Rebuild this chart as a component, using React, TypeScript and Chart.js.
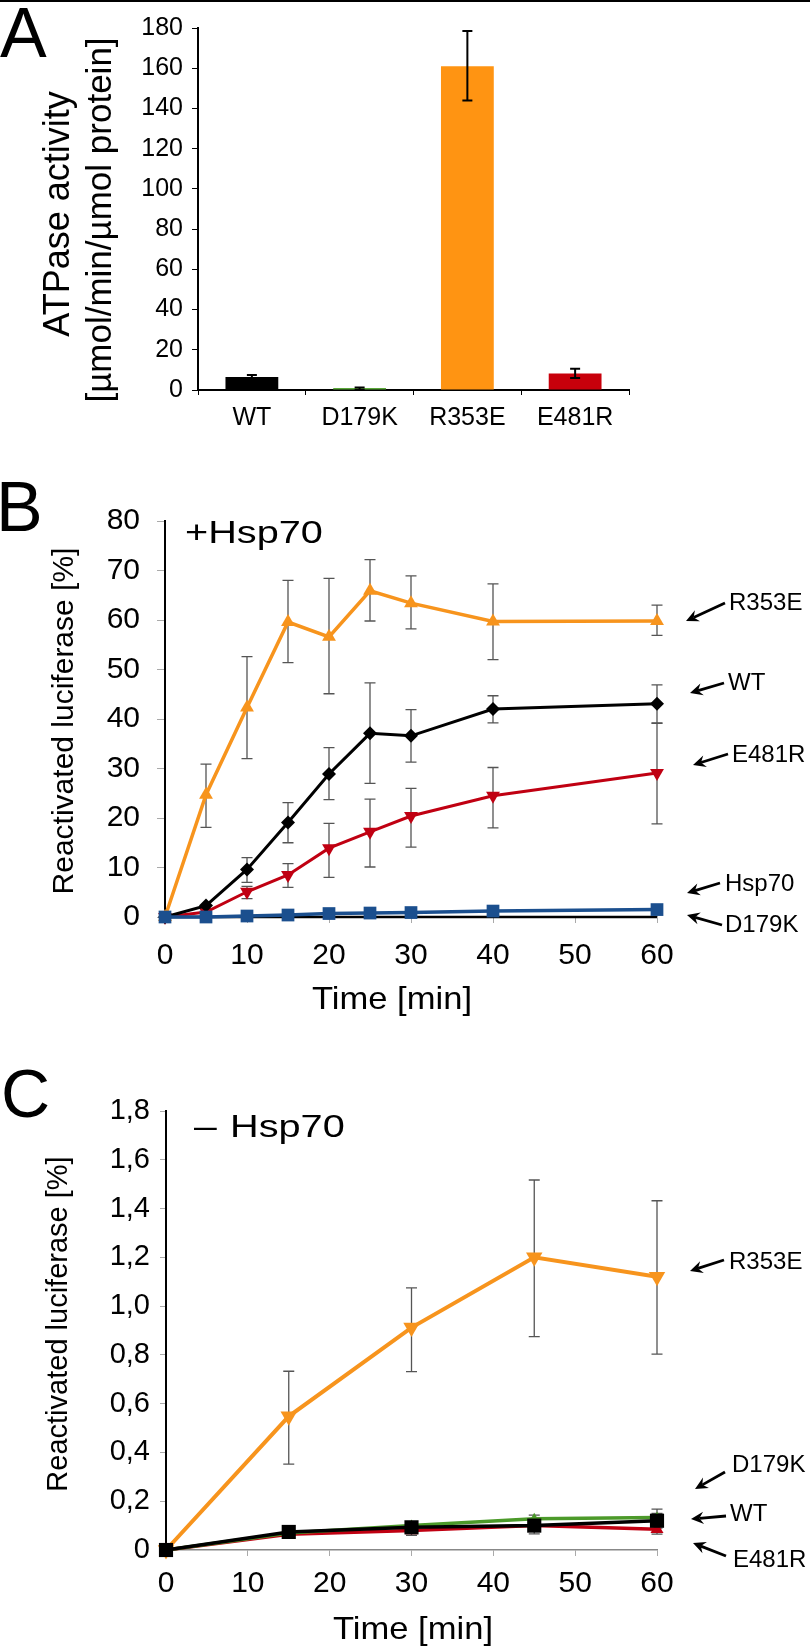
import React, { useEffect, useRef } from 'react';
import { Chart, registerables } from 'chart.js';

Chart.register(...registerables);

const FONT = "'Liberation Sans', Arial, Helvetica, sans-serif";
Chart.defaults.font.family = FONT;
Chart.defaults.color = '#000';

// ---------------- Panel A : ATPase activity ----------------
const aCategories = ['WT', 'D179K', 'R353E', 'E481R'];
const aActivity = [6.5, 1.0, 161, 8.2];
const aErrLow = [5.6, 0, 144, 6];
const aErrHigh = [7.4, 1.2, 178.5, 10.6];
const aColors = ['#000000', '#5BA83A', '#FF9412', '#C8000B'];
const aYMax = 180;
const aYStep = 20;

// ---------------- Panel B : +Hsp70 ----------------
const bTime = [0, 5, 10, 15, 20, 25, 30, 40, 60];
const bR353E = [0, 24.7, 42.3, 59.6, 56.6, 65.9, 63.4, 59.7, 59.8];
const bR353ELow = [0, 18.1, 32, 51.4, 45.1, 59.8, 58.2, 52, 56.9];
const bR353EHigh = [0, 30.9, 52.6, 68, 68.4, 72.2, 68.9, 67.3, 63];
const bWT = [0, 2.3, 9.6, 19.1, 28.9, 37.1, 36.6, 42, 43.1];
const bWTLow = [0, 2.3, 7, 15, 23.7, 27, 31.3, 39.2, 39.2];
const bWTHigh = [0, 2.3, 12, 23.1, 34.2, 47.3, 41.9, 44.7, 46.9];
const bE481R = [0, 1, 5.1, 8.5, 13.9, 17.2, 20.4, 24.5, 29.1];
const bE481RLow = [0, 1, 3.7, 6, 8, 10.1, 14.1, 18, 18.8];
const bE481RHigh = [0, 1, 6.2, 10.8, 18.9, 23.8, 26, 30.2, 39.1];
const bHsp70 = [0, 0, 0.2, 0.4, 0.7, 0.8, 0.9, 1.2, 1.5];
const bHsp70Low = [0, 0, -0.4, -0.2, 0.1, 0.1, 0.2, 0.5, 0.8];
const bHsp70High = [0, 0, 0.8, 1.0, 1.3, 1.5, 1.6, 1.9, 2.2];
const bD179K = [0, 0, 0, 0, 0, 0, 0, 0, 0];
const bYMax = 80;
const bYStep = 10;

// ---------------- Panel C : – Hsp70 ----------------
const cTime = [0, 15, 30, 45, 60];
const cR353E = [0, 0.548, 0.912, 1.2, 1.12];
const cR353ELow = [0, 0.352, 0.731, 0.875, 0.803];
const cR353EHigh = [0, 0.733, 1.075, 1.517, 1.432];
const cWT = [0, 0.074, 0.093, 0.1, 0.12];
const cWTLow = [0, 0.064, 0.083, 0.066, 0.09];
const cWTHigh = [0, 0.084, 0.103, 0.125, 0.15];
const cD179K = [0, 0.07, 0.1, 0.128, 0.133];
const cD179KLow = [0, 0.06, 0.09, 0.113, 0.1];
const cD179KHigh = [0, 0.08, 0.11, 0.143, 0.168];
const cE481R = [0, 0.065, 0.08, 0.1, 0.085];
const cE481RLow = [0, 0.055, 0.06, 0.08, 0.065];
const cE481RHigh = [0, 0.075, 0.1, 0.12, 0.105];
const cYMax = 1.8;
const cYStep = 0.2;

const ORANGE = '#F7941D';
const RED = '#C00012';
const BLUE = '#1B4F8E';
const GREEN = '#4C9A2A';

const pts = (xs: number[], ys: number[]) => xs.map((x, i) => ({ x, y: ys[i] }));

// ---------- plugins ----------
function drawErrors(chart: any, opts: any) {
  const ctx = chart.ctx;
  const yScale = chart.scales.y;
  chart.data.datasets.forEach((ds: any, di: number) => {
    if (!ds.errLow) return;
    const meta = chart.getDatasetMeta(di);
    ctx.save();
    ctx.strokeStyle = opts.color;
    ctx.lineWidth = opts.width;
    meta.data.forEach((el: any, i: number) => {
      const lo = ds.errLow[i];
      const hi = ds.errHigh[i];
      if (lo == null || hi == null || hi - lo <= 0) return;
      const x = el.x;
      const y1 = yScale.getPixelForValue(lo);
      const y2 = yScale.getPixelForValue(hi);
      const c = opts.cap / 2;
      ctx.beginPath();
      ctx.moveTo(x, y1);
      ctx.lineTo(x, y2);
      ctx.moveTo(x - c, y1);
      ctx.lineTo(x + c, y1);
      ctx.moveTo(x - c, y2);
      ctx.lineTo(x + c, y2);
      ctx.stroke();
    });
    ctx.restore();
  });
}

const errorBarPlugin = {
  id: 'errorBars',
  beforeDatasetsDraw(chart: any, _a: any, opts: any) {
    if (opts && opts.under) drawErrors(chart, opts);
  },
  afterDatasetsDraw(chart: any, _a: any, opts: any) {
    if (opts && !opts.under) drawErrors(chart, opts);
  },
};

type TextItem = {
  t: string;
  x: number;
  y: number;
  size: number;
  align?: CanvasTextAlign;
  base?: CanvasTextBaseline;
  rot?: boolean;
  sx?: number;
};
type ArrowItem = { x1: number; y1: number; x2: number; y2: number };

function drawArrow(ctx: CanvasRenderingContext2D, x1: number, y1: number, x2: number, y2: number) {
  const ang = Math.atan2(y2 - y1, x2 - x1);
  const len = 14;
  const spread = 0.45;
  const bx = x2 - Math.cos(ang) * len * 0.6;
  const by = y2 - Math.sin(ang) * len * 0.6;
  ctx.lineWidth = 2.8;
  ctx.beginPath();
  ctx.moveTo(x1, y1);
  ctx.lineTo(bx, by);
  ctx.stroke();
  ctx.beginPath();
  ctx.moveTo(x2, y2);
  ctx.lineTo(x2 - Math.cos(ang - spread) * len, y2 - Math.sin(ang - spread) * len);
  ctx.lineTo(bx, by);
  ctx.lineTo(x2 - Math.cos(ang + spread) * len, y2 - Math.sin(ang + spread) * len);
  ctx.closePath();
  ctx.fill();
}

function annotPlugin(offsetY: number, texts: TextItem[], arrows: ArrowItem[]) {
  return {
    id: 'annot',
    afterDraw(chart: any) {
      const ctx: CanvasRenderingContext2D = chart.ctx;
      ctx.save();
      ctx.fillStyle = '#000';
      ctx.strokeStyle = '#000';
      texts.forEach((it) => {
        ctx.save();
        ctx.font = `${it.size}px ${FONT}`;
        ctx.textAlign = it.align ?? 'left';
        ctx.textBaseline = it.base ?? 'alphabetic';
        ctx.translate(it.x, it.y - offsetY);
        if (it.rot) ctx.rotate(-Math.PI / 2);
        if (it.sx) ctx.scale(it.sx, 1);
        ctx.fillText(it.t, 0, 0);
        ctx.restore();
      });
      arrows.forEach((a) => drawArrow(ctx, a.x1, a.y1 - offsetY, a.x2, a.y2 - offsetY));
      ctx.restore();
    },
  };
}

// ---------- layout (page pixels) ----------
const W = 810;
const A_TOP = 0, A_H = 440;
const B_TOP = 440, B_H = 600;
const C_TOP = 1040, C_H = 611;

const commaTick = (v: any) => {
  const n = Number(v);
  if (Math.abs(n) < 1e-9) return '0';
  return n.toFixed(1).replace('.', ',');
};

function makeA(canvas: HTMLCanvasElement) {
  const texts: TextItem[] = [
    { t: 'A', x: 0, y: 57, size: 70 },
    { t: 'ATPase activity', x: 59, y: 214, size: 36, align: 'center', base: 'middle', rot: true },
    { t: '[µmol/min/µmol protein]', x: 101, y: 220, size: 35, align: 'center', base: 'middle', rot: true },
  ];
  return new Chart(canvas, {
    type: 'bar',
    data: {
      labels: aCategories,
      datasets: [
        {
          data: aActivity,
          backgroundColor: aColors,
          barPercentage: 0.49,
          categoryPercentage: 1,
          errLow: aErrLow,
          errHigh: aErrHigh,
        } as any,
      ],
    },
    options: {
      animation: false,
      responsive: false,
      layout: { padding: { left: 0, top: 28, right: W - 629, bottom: 0 } },
      plugins: {
        legend: { display: false },
        tooltip: { enabled: false },
        errorBars: { under: false, color: '#000', width: 2, cap: 10 },
      } as any,
      scales: {
        x: {
          ticks: { font: { size: 25, family: FONT }, color: '#000', padding: 8, maxRotation: 0 },
          grid: { drawOnChartArea: false, drawTicks: true, tickLength: 5, tickColor: '#000', offset: true },
          border: { display: true, color: '#000', width: 2 },
          afterFit: (s: any) => { s.height = A_H - 390; },
        },
        y: {
          min: 0,
          max: aYMax,
          ticks: { stepSize: aYStep, font: { size: 25, family: FONT }, color: '#000', padding: 9 },
          grid: { drawOnChartArea: false, drawTicks: true, tickLength: 6, tickColor: '#000' },
          border: { display: true, color: '#000', width: 2 },
          afterFit: (s: any) => { s.width = 198; },
        },
      },
    },
    plugins: [errorBarPlugin, annotPlugin(A_TOP, texts, [])],
  } as any);
}

function makeB(canvas: HTMLCanvasElement) {
  const texts: TextItem[] = [
    { t: 'B', x: -4, y: 531, size: 70 },
    { t: '+Hsp70', x: 185, y: 543, size: 32, sx: 1.24 },
    { t: 'Reactivated luciferase [%]', x: 65, y: 721, size: 30, align: 'center', base: 'middle', rot: true },
    { t: 'Time [min]', x: 392, y: 1000, size: 32, align: 'center', base: 'middle', sx: 1.08 },
    { t: 'R353E', x: 729, y: 610, size: 24 },
    { t: 'WT', x: 728, y: 690, size: 24 },
    { t: 'E481R', x: 732, y: 762, size: 24 },
    { t: 'Hsp70', x: 725, y: 891, size: 24 },
    { t: 'D179K', x: 725, y: 932, size: 24 },
  ];
  const arrows: ArrowItem[] = [
    { x1: 725, y1: 603, x2: 686, y2: 621 },
    { x1: 724, y1: 683, x2: 690, y2: 693 },
    { x1: 728, y1: 754, x2: 693, y2: 765 },
    { x1: 720, y1: 883, x2: 687, y2: 893 },
    { x1: 722, y1: 925, x2: 687, y2: 915 },
  ];
  const lineBase = { tension: 0, clip: false as any };
  return new Chart(canvas, {
    type: 'line',
    data: {
      datasets: [
        {
          ...lineBase, label: 'Hsp70', data: pts(bTime, bHsp70), borderColor: BLUE, backgroundColor: BLUE,
          borderWidth: 3.5, pointStyle: 'rect', pointRadius: 9, pointBorderWidth: 0,
          errLow: bHsp70Low, errHigh: bHsp70High,
        },
        {
          ...lineBase, label: 'R353E', data: pts(bTime, bR353E), borderColor: ORANGE, backgroundColor: ORANGE,
          borderWidth: 3.5, pointStyle: 'triangle', pointRadius: 8, pointBorderWidth: 0,
          errLow: bR353ELow, errHigh: bR353EHigh,
        },
        {
          ...lineBase, label: 'WT', data: pts(bTime, bWT), borderColor: '#000', backgroundColor: '#000',
          borderWidth: 3, pointStyle: 'rectRot', pointRadius: 7, pointBorderWidth: 0,
          errLow: bWTLow, errHigh: bWTHigh,
        },
        {
          ...lineBase, label: 'E481R', data: pts(bTime, bE481R), borderColor: RED, backgroundColor: RED,
          borderWidth: 3, pointStyle: 'triangle', pointRotation: 180, pointRadius: 8, pointBorderWidth: 0,
          errLow: bE481RLow, errHigh: bE481RHigh,
        },
        {
          ...lineBase, label: 'D179K', data: pts(bTime, bD179K), borderColor: '#000', backgroundColor: '#000',
          borderWidth: 2.5, pointRadius: 0,
        },
      ] as any,
    },
    options: {
      animation: false,
      responsive: false,
      layout: { padding: { left: 0, top: 521 - B_TOP, right: W - 657, bottom: 0 } },
      plugins: {
        legend: { display: false },
        tooltip: { enabled: false },
        errorBars: { under: true, color: '#555', width: 1.3, cap: 11 },
      } as any,
      scales: {
        x: {
          type: 'linear',
          min: 0,
          max: 60,
          offset: false,
          ticks: { stepSize: 10, font: { size: 30, family: FONT }, color: '#000', padding: 15, maxRotation: 0 },
          grid: { drawOnChartArea: false, drawTicks: true, tickLength: 6, tickColor: '#aaa' },
          border: { display: true, color: '#999', width: 1.5 },
          afterFit: (s: any) => { s.height = B_TOP + B_H - 917; },
        },
        y: {
          min: 0,
          max: bYMax,
          ticks: { stepSize: bYStep, font: { size: 30, family: FONT }, color: '#000', padding: 17 },
          grid: { drawOnChartArea: false, drawTicks: true, tickLength: 8, tickColor: '#aaa' },
          border: { display: true, color: '#000', width: 2 },
          afterFit: (s: any) => { s.width = 165; },
        },
      },
    },
    plugins: [errorBarPlugin, annotPlugin(B_TOP, texts, arrows)],
  } as any);
}

function makeC(canvas: HTMLCanvasElement) {
  const texts: TextItem[] = [
    { t: 'C', x: 1, y: 1117, size: 68 },
    { t: '–', x: 194, y: 1137, size: 33, sx: 1.24 },
    { t: 'Hsp70', x: 230, y: 1137, size: 32, sx: 1.24 },
    { t: 'Reactivated luciferase [%]', x: 59, y: 1324, size: 29, align: 'center', base: 'middle', rot: true },
    { t: 'Time [min]', x: 413, y: 1630, size: 32, align: 'center', base: 'middle', sx: 1.08 },
    { t: 'R353E', x: 729, y: 1269, size: 24 },
    { t: 'D179K', x: 732, y: 1472, size: 24 },
    { t: 'WT', x: 730, y: 1521, size: 24 },
    { t: 'E481R', x: 733, y: 1567, size: 24 },
  ];
  const arrows: ArrowItem[] = [
    { x1: 724, y1: 1260, x2: 690, y2: 1271 },
    { x1: 725, y1: 1472, x2: 695, y2: 1489 },
    { x1: 726, y1: 1516, x2: 691, y2: 1519 },
    { x1: 726, y1: 1556, x2: 693, y2: 1543 },
  ];
  const lineBase = { tension: 0, clip: false as any };
  return new Chart(canvas, {
    type: 'line',
    data: {
      datasets: [
        {
          ...lineBase, label: 'WT', data: pts(cTime, cWT), borderColor: '#000', backgroundColor: '#000',
          borderWidth: 3.5, pointStyle: 'rect', pointRadius: 10, pointBorderWidth: 0,
          errLow: cWTLow, errHigh: cWTHigh,
        },
        {
          ...lineBase, label: 'D179K', data: pts(cTime, cD179K), borderColor: GREEN, backgroundColor: GREEN,
          borderWidth: 3.5, pointStyle: 'triangle', pointRadius: 6, pointBorderWidth: 0,
          errLow: cD179KLow, errHigh: cD179KHigh,
        },
        {
          ...lineBase, label: 'E481R', data: pts(cTime, cE481R), borderColor: RED, backgroundColor: RED,
          borderWidth: 3.5, pointStyle: 'triangle', pointRadius: 7.5, pointBorderWidth: 0,
          errLow: cE481RLow, errHigh: cE481RHigh,
        },
        {
          ...lineBase, label: 'R353E', data: pts(cTime, cR353E), borderColor: ORANGE, backgroundColor: ORANGE,
          borderWidth: 4, pointStyle: 'triangle', pointRotation: 180, pointRadius: 9.5, pointBorderWidth: 0,
          errLow: cR353ELow, errHigh: cR353EHigh,
        },
      ] as any,
    },
    options: {
      animation: false,
      responsive: false,
      layout: { padding: { left: 0, top: 1111 - C_TOP, right: W - 657, bottom: 0 } },
      plugins: {
        legend: { display: false },
        tooltip: { enabled: false },
        errorBars: { under: true, color: '#555', width: 1.3, cap: 11 },
      } as any,
      scales: {
        x: {
          type: 'linear',
          min: 0,
          max: 60,
          offset: false,
          ticks: { stepSize: 10, font: { size: 30, family: FONT }, color: '#000', padding: 10, maxRotation: 0 },
          grid: { drawOnChartArea: false, drawTicks: true, tickLength: 6, tickColor: '#aaa' },
          border: { display: true, color: '#888', width: 1.5 },
          afterFit: (s: any) => { s.height = C_TOP + C_H - 1550; },
        },
        y: {
          min: 0,
          max: cYMax,
          ticks: { stepSize: cYStep, font: { size: 29, family: FONT }, color: '#000', padding: 10, callback: commaTick },
          grid: { drawOnChartArea: false, drawTicks: true, tickLength: 6, tickColor: '#aaa' },
          border: { display: true, color: '#000', width: 2 },
          afterFit: (s: any) => { s.width = 166; },
        },
      },
    },
    plugins: [errorBarPlugin, annotPlugin(C_TOP, texts, arrows)],
  } as any);
}

export default function App() {
  const aRef = useRef<HTMLCanvasElement>(null);
  const bRef = useRef<HTMLCanvasElement>(null);
  const cRef = useRef<HTMLCanvasElement>(null);

  useEffect(() => {
    const charts: Chart[] = [];
    if (aRef.current) charts.push(makeA(aRef.current));
    if (bRef.current) charts.push(makeB(bRef.current));
    if (cRef.current) charts.push(makeC(cRef.current));
    return () => charts.forEach((c) => c.destroy());
  }, []);

  const cv = (top: number, h: number): React.CSSProperties => ({
    position: 'absolute', left: 0, top, width: W, height: h, display: 'block',
  });

  return (
    <div style={{ position: 'absolute', left: 0, top: 0, width: W, height: 1651, background: '#fff', overflow: 'hidden' }}>
      <div style={{ position: 'absolute', left: 0, top: 0, width: W, height: 2, background: '#000' }} />
      <canvas ref={aRef} width={W} height={A_H} style={cv(A_TOP, A_H)} />
      <canvas ref={bRef} width={W} height={B_H} style={cv(B_TOP, B_H)} />
      <canvas ref={cRef} width={W} height={C_H} style={cv(C_TOP, C_H)} />
    </div>
  );
}
